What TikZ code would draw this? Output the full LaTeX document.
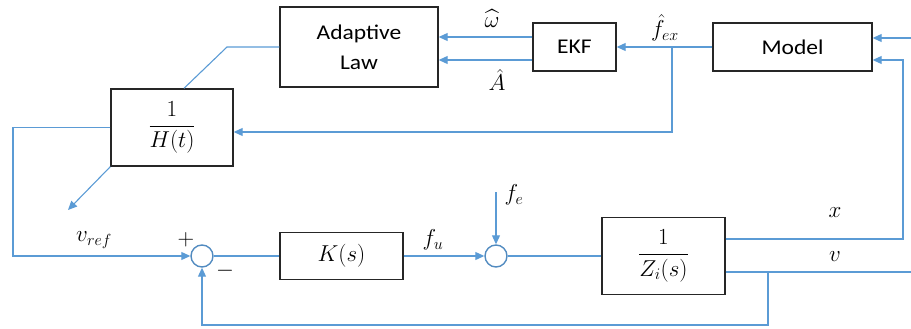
\documentclass[tikz,border=0pt]{standalone}
\usepackage{fix-cm}
\usepackage{amsmath}
\usepackage{fontspec}
\newfontfamily\carl[FakeStretch=1.12]{Carlito}
\usetikzlibrary{arrows.meta}
\definecolor{sigblue}{RGB}{91,155,213}
\tikzset{
  blk/.style={draw=black!85, line width=1.4pt, minimum width=#1, inner sep=0pt, font=\carl\fontsize{21}{25}\selectfont},
  mblk/.style={blk=#1, font=\fontsize{23}{27}\selectfont},
  sumc/.style={circle, draw=sigblue!90!black, line width=1.4pt, minimum size=22pt, inner sep=0pt},
  ln/.style={draw=sigblue, line width=1.1pt},
  sig/.style={ln, -{Triangle[length=9pt,width=8pt]}},
  lab/.style={font=\fontsize{23}{27}\selectfont, inner sep=0pt}
}
\begin{document}
\begin{tikzpicture}[x=1pt,y=-1pt]
\useasboundingbox (0,0) rectangle (911,329);
% blocks
\node[blk=158pt, minimum height=80pt, align=center] (adapt) at (359,47) {Adaptive\\[5pt]Law};
\node[mblk=122pt, minimum height=77pt] (H) at (172,127.5) {$\dfrac{1}{H(t)}$};
\node[blk=83pt, minimum height=48pt] (ekf) at (574.5,47) {EKF};
\node[blk=159pt, minimum height=48pt] (model) at (792.5,47) {Model};
\node[mblk=123pt, minimum height=47pt] (K) at (341.5,256) {$K(s)$};
\node[mblk=123pt, minimum height=77pt] (Zi) at (663.5,256) {$\dfrac{1}{Z_i(s)}$};
\node[sumc] (s1) at (202,256) {};
\node[sumc] (s2) at (496,256) {};
% coordinates
\coordinate (bf) at (672,47);
\coordinate (rin) at (911,38);
\coordinate (xr) at (903,239);
\coordinate (vend) at (911,272);
\coordinate (vb) at (768,272);
\coordinate (fb) at (768,325);
\coordinate (hl) at (13,127.5);
\coordinate (vref) at (68,210);
\coordinate (fe) at (496,192);
\coordinate (ak) at (227,47);
% connectors
\draw[sig] (ekf.west |- 0,37) -- (adapt.east |- 0,37);
\draw[sig] (ekf.west |- 0,60) -- (adapt.east |- 0,60);
\draw[sig] (model.west) -- (ekf.east);
\draw[sig] (bf) -- (bf |- 0,132) -- (H.east |- 0,132);
\draw[sig] (rin) -- (model.east |- rin);
\draw[sig] (Zi.east |- xr) -- (xr) -- (xr |- 0,60) -- (model.east |- 0,60);
\draw[ln] (Zi.east |- vend) -- (vend);
\draw[sig] (vb) -- (fb) -- (s1 |- fb) -- (s1.south);
\draw[ln] (adapt.west) -- (ak) -- (H.north -| 184,0);
\draw[sig] (H.west) -- (hl) -- (hl |- s1) -- (s1.west);
\draw[sig] (H.south west) -- (vref);
\draw[ln] (s1.east) -- (K.west);
\draw[sig] (K.east) -- (s2.west);
\draw[sig] (fe) -- (s2.north);
\draw[ln] (s2.east) -- (Zi.west);
% labels
\node[lab] at (492,19) {$\widehat{\omega}$};
\node[lab] at (497,80) {$\hat{A}$};
\node[lab] at (665,28) {$\hat{f}_{ex}$};
\node[lab] at (94,240) {$v_{ref}$};
\node[lab] at (186,240) {$+$};
\node[lab] at (225,271) {$-$};
\node[lab] at (433,240) {$f_u$};
\node[lab] at (514,195) {$f_e$};
\node[lab] at (835,213) {$x$};
\node[lab] at (835,257) {$v$};
\end{tikzpicture}
\end{document}
